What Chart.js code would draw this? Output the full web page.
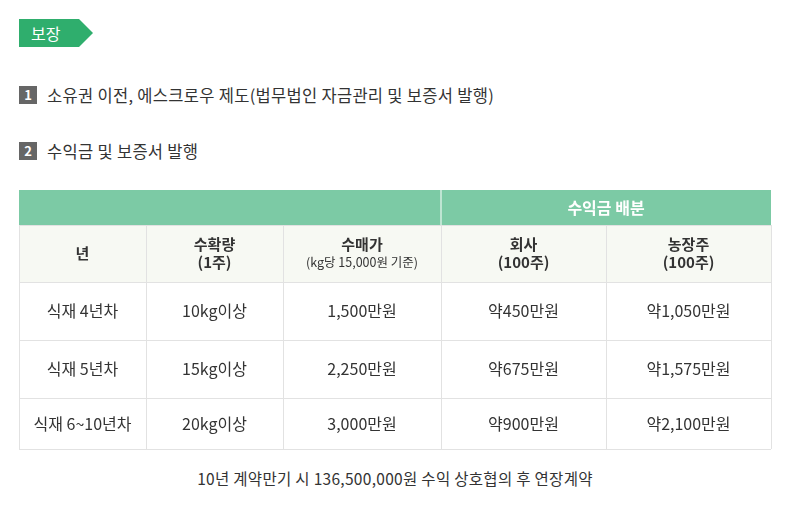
<!DOCTYPE html>
<html><head><meta charset="utf-8">
<script src="https://cdn.jsdelivr.net/npm/chart.js@4"></script>
<style>
body{margin:0;width:790px;height:509px;background:#fff;font-family:"Noto Sans CJK KR","Noto Sans",sans-serif;color:#333;position:relative;overflow:hidden}
.tag{position:absolute;left:19px;top:19px;height:28px;width:60px;background:#2fae6d;color:#fff;font-size:16px;line-height:28px;padding-left:12px;box-sizing:border-box}
.tag:after{content:"";position:absolute;right:-14px;top:0;border-left:14px solid #2fae6d;border-top:14px solid transparent;border-bottom:14px solid transparent}
.item{position:absolute;left:19px;font-size:16.5px;line-height:18px;letter-spacing:0.3px}
.item b{display:inline-block;width:18px;height:18px;background:#666;color:#fff;font-size:13px;text-align:center;margin-right:10px;vertical-align:top;letter-spacing:0}
.foot{position:absolute;left:0;width:790px;top:467px;text-align:center;font-size:15.5px;letter-spacing:0.3px}
#wrap{position:absolute;left:0;top:185px;width:790px;height:270px}
</style></head><body>
<div class="tag">보장</div>
<div class="item" style="top:86px"><b>1</b>소유권 이전, 에스크로우 제도(법무법인 자금관리 및 보증서 발행)</div>
<div class="item" style="top:142px"><b>2</b>수익금 및 보증서 발행</div>
<div id="wrap"><canvas id="c"></canvas></div>
<div class="foot">10년 계약만기 시 136,500,000원 수익 상호협의 후 연장계약</div>
<script>
const groupTitle = '수익금 배분';
const headers = [['년'], ['수확량', '(1주)'], ['수매가', '(kg당 15,000원 기준)'], ['회사', '(100주)'], ['농장주', '(100주)']];
const years = ['식재 4년차', '식재 5년차', '식재 6~10년차'];
const harvest = ['10kg이상', '15kg이상', '20kg이상'];
const price = ['1,500만원', '2,250만원', '3,000만원'];
const company = ['약450만원', '약675만원', '약900만원'];
const farmer = ['약1,050만원', '약1,575만원', '약2,100만원'];

// layout in scale units (pixels of the canvas)
const colEdges = [19, 146, 283, 441, 606, 771];
const rowEdges = [5, 40, 97, 155, 213, 264];

const tablePlugin = {
  id: 'table',
  beforeDraw(chart) {
    const {ctx, scales: {x, y}} = chart;
    const X = v => x.getPixelForValue(v), Y = v => y.getPixelForValue(v);
    ctx.save();
    ctx.fillStyle = '#7ccaa5';
    ctx.fillRect(X(colEdges[0]), Y(rowEdges[0]), X(colEdges[5]) - X(colEdges[0]), Y(rowEdges[1]) - Y(rowEdges[0]));
    ctx.fillStyle = '#fff';
    ctx.fillRect(X(colEdges[3]) - 0.5, Y(rowEdges[0]), 1, Y(rowEdges[1]) - Y(rowEdges[0]));
    ctx.font = 'bold 16px "Noto Sans CJK KR"';
    ctx.textAlign = 'center'; ctx.textBaseline = 'middle';
    ctx.fillText(groupTitle, (X(colEdges[3]) + X(colEdges[5])) / 2, (Y(rowEdges[0]) + Y(rowEdges[1])) / 2);
    ctx.fillStyle = '#f7f9f3';
    ctx.fillRect(X(colEdges[0]), Y(rowEdges[1]), X(colEdges[5]) - X(colEdges[0]), Y(rowEdges[2]) - Y(rowEdges[1]));
    ctx.strokeStyle = '#e2e2e2'; ctx.lineWidth = 1;
    for (let r = 1; r < rowEdges.length; r++) {
      ctx.beginPath(); ctx.moveTo(X(colEdges[0]), Y(rowEdges[r]) + 0.5); ctx.lineTo(X(colEdges[5]), Y(rowEdges[r]) + 0.5); ctx.stroke();
    }
    colEdges.forEach(c => { ctx.beginPath(); ctx.moveTo(Math.round(X(c)) + 0.5, Y(rowEdges[1])); ctx.lineTo(Math.round(X(c)) + 0.5, Y(rowEdges[5])); ctx.stroke(); });
    const cx = i => (X(colEdges[i]) + X(colEdges[i + 1])) / 2;
    const cy = i => (Y(rowEdges[i]) + Y(rowEdges[i + 1])) / 2;
    ctx.fillStyle = '#333';
    headers.forEach((h, i) => {
      if (h.length === 1) { ctx.font = 'bold 15px "Noto Sans CJK KR"'; ctx.fillText(h[0], cx(i), cy(1)); }
      else {
        ctx.font = 'bold 15px "Noto Sans CJK KR"'; ctx.fillText(h[0], cx(i), cy(1) - 9);
        ctx.font = (i === 2 ? '12.5px' : 'bold 15px') + ' "Noto Sans CJK KR"'; ctx.fillText(h[1], cx(i), cy(1) + 9);
      }
    });
    ctx.font = '16px "Noto Sans CJK KR"';
    [years, harvest, price, company, farmer].forEach((col, i) => col.forEach((t, r) => ctx.fillText(t, cx(i), cy(r + 2))));
    ctx.restore();
  }
};

new Chart(document.getElementById('c'), {
  type: 'scatter',
  data: { datasets: [{ data: [] }] },
  options: {
    responsive: true, maintainAspectRatio: false, animation: false,
    layout: { padding: 0 },
    plugins: { legend: { display: false }, tooltip: { enabled: false } },
    scales: {
      x: { type: 'linear', min: 0, max: 790, display: false },
      y: { type: 'linear', min: 0, max: 270, reverse: true, display: false }
    }
  },
  plugins: [tablePlugin]
});
</script>
</body></html>
